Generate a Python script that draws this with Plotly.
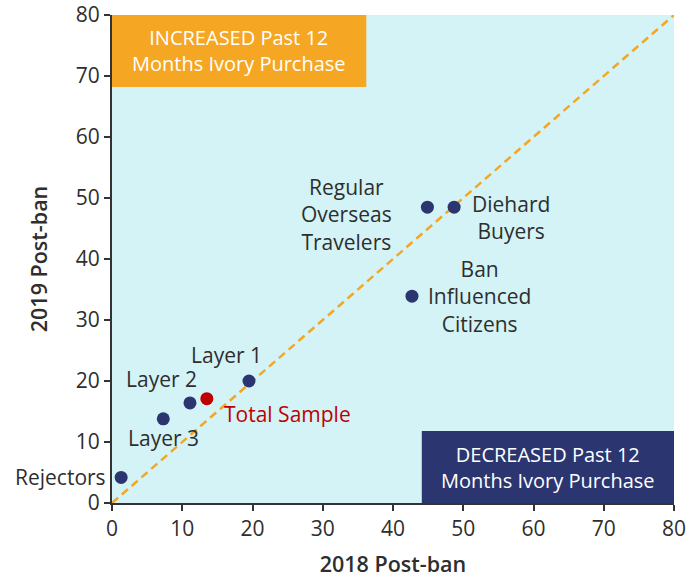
import plotly.graph_objects as go

FONT = "'Open Sans', Roboto, sans-serif"
NAVY = "#2b3670"
ORANGE = "#f5a623"
RED = "#c00000"
INK = "#2e2e2e"

segments = ["Rejectors", "Layer 3", "Layer 2", "Total Sample", "Layer 1",
            "Ban Influenced Citizens", "Regular Overseas Travelers", "Diehard Buyers"]
x_2018 = [1.3, 7.3, 11.1, 13.5, 19.5, 42.7, 44.9, 48.7]
y_2019 = [4.2, 13.8, 16.4, 17.1, 20.0, 33.9, 48.5, 48.5]
point_colors = [NAVY, NAVY, NAVY, RED, NAVY, NAVY, NAVY, NAVY]

tick_vals = [0, 10, 20, 30, 40, 50, 60, 70, 80]

fig = go.Figure()

# line of no change
fig.add_trace(go.Scatter(
    x=[0, 80], y=[0, 80], mode="lines",
    line=dict(color=ORANGE, width=2.5, dash="8px,5px"),
    hoverinfo="skip", showlegend=False,
))

fig.add_trace(go.Scatter(
    x=x_2018, y=y_2019, mode="markers",
    marker=dict(color=point_colors, size=13),
    text=segments, hoverinfo="text", showlegend=False,
))

# point labels: (text, point index, xanchor, xshift, yshift, color)
labels = [
    ("Rejectors", 0, "right", -13, 0, INK),
    ("Layer 3", 1, "center", 0, -19, INK),
    ("Layer 2", 2, "center", -28, 24, INK),
    ("Total Sample", 3, "left", 15, -15, RED),
    ("Layer 1", 4, "center", -22, 26, INK),
    ("Ban<br>Influenced<br>Citizens", 5, "center", 68, 0, INK),
    ("Regular<br>Overseas<br>Travelers", 6, "center", -81, -7, INK),
    ("Diehard<br>Buyers", 7, "left", 16, -10, INK),
]
for txt, i, anchor, xs, ys, col in labels:
    fig.add_annotation(
        x=x_2018[i], y=y_2019[i], text=txt, showarrow=False,
        xanchor=anchor, yanchor="middle", xshift=xs, yshift=ys,
        font=dict(family=FONT, size=21, color=col),
    )

# quadrant boxes
fig.add_shape(type="rect", xref="x", yref="y", x0=0, x1=36.2, y0=68.2, y1=80,
              fillcolor=ORANGE, line=dict(width=0), layer="above")
fig.add_shape(type="rect", xref="x", yref="y", x0=44.1, x1=80, y0=0, y1=11.8,
              fillcolor=NAVY, line=dict(width=0), layer="above")
fig.add_annotation(x=18.1, y=74.1, text="INCREASED Past 12<br>Months Ivory Purchase",
                   showarrow=False, font=dict(family=FONT, size=20, color="white"))
fig.add_annotation(x=62.05, y=5.9, text="DECREASED Past 12<br>Months Ivory Purchase",
                   showarrow=False, font=dict(family=FONT, size=20, color="white"))

axis_common = dict(
    range=[0, 80], tickvals=tick_vals, showgrid=False, zeroline=False,
    showline=True, linecolor="#333333", linewidth=2,
    ticks="outside", ticklen=6, tickwidth=2, tickcolor="#333333",
    tickfont=dict(family=FONT, size=21, color=INK),
    ticklabeloverflow="allow",
    automargin=False,
)

fig.update_layout(
    width=689, height=578,
    margin=dict(l=112, r=15, t=15, b=75),
    paper_bgcolor="white",
    plot_bgcolor="#d3f3f6",
    xaxis=dict(axis_common, title=dict(text="2018 Post-ban", standoff=16,
                                       font=dict(family=FONT, size=21.5, color=INK, weight=600))),
    yaxis=dict(axis_common, title=dict(text="2019 Post-ban", standoff=22,
                                       font=dict(family=FONT, size=21.5, color=INK, weight=600))),
)

# drop the default 8px page margin so the figure fills the window
fig.write_html("out.html", config={"displayModeBar": False},
               post_script="document.body.style.margin = '0';")
